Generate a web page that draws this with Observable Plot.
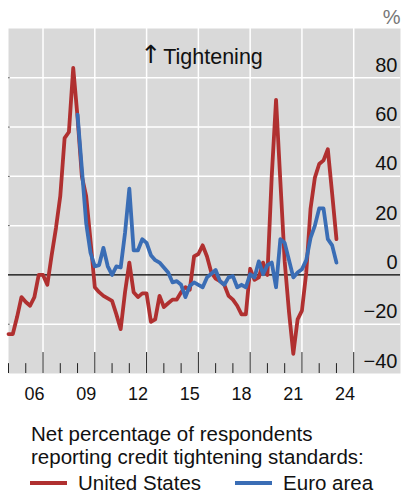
<!DOCTYPE html>
<html>
<head>
<meta charset="utf-8">
<script src="https://cdn.jsdelivr.net/npm/d3@7"></script>
<script src="https://cdn.jsdelivr.net/npm/@observablehq/plot@0.6"></script>
<style>
  body { margin: 0; background: #fff; font-family: "Liberation Sans", Arial, sans-serif; color: #111; }
  #chart svg { display: block; }
  #legend { margin-top: 13px; padding-left: 31px; font-size: 20.5px; line-height: 22.5px; }
  #legend .row { display: flex; align-items: center; margin-top: 5px; line-height: 20px; }
  #legend .sw { display: inline-block; width: 37px; height: 4px; margin-left: -1px; margin-right: 11px; }
  #legend .gap { display: inline-block; width: 35px; }
</style>
</head>
<body>
<div id="chart"></div>
<div id="legend">
  <div>Net percentage of respondents<br>reporting credit tightening standards:</div>
  <div class="row">
    <span class="sw" style="background:#b03030"></span><span>United States</span>
    <span class="gap"></span>
    <span class="sw" style="background:#3a6db5"></span><span>Euro area</span>
  </div>
</div>
<script>
// Quarterly series, United States starting 2005 Q1
const usStart = 2005;
const usValues = [
  -24, -24, -17, -9,
  -11, -12.5, -9, 0,
  0, -4, 8, 19,
  32, 55.5, 58, 84,
  64, 40, 32, 14,
  -5, -7, -8.5, -9.5,
  -10.5, -16, -22, -7,
  5, -7, -9, -7.5,
  -7.5, -19, -18, -8.5,
  -13, -11.5, -10, -10,
  -7, -5, -6, 7.5,
  8.5, 12, 7.5, 1,
  -1.5, -2.5, -4, -8.5,
  -10, -12.5, -16, -16,
  2.5, -2, -1, 5,
  0, 40, 71, 38,
  5.5, -15, -32, -18,
  -14.5, 1, 27, 39.5,
  45, 46.5, 51, 33,
  14.5
];
// Euro area starting 2009 Q1
const euroStart = 2009;
const euroValues = [
  65, 43, 21, 9,
  3.5, 4, 11, 3.5,
  0, 3.5, 3, 17,
  35, 10, 10, 14.5,
  13, 8, 6, 5,
  3, 1, -3, -2.5,
  -4, -9, -4.5, -3,
  -4, -5, -1, 0.5,
  2, -2.5, -4, -1,
  -0.5, -5, -4, -5,
  0.3, -1, 5.5, 0.3,
  4, 5, -5, 14.5,
  13, 6, -1, 1,
  2.3, 6, 15, 20,
  27, 27, 14.5, 12,
  5
];
const yTicks = [-40, -20, 0, 20, 40, 60, 80];
const yGrid = [-20, 20, 40, 60, 80];
const yearLabels = [2006, 2009, 2012, 2015, 2018, 2021, 2024];
const gridYears = [2007, 2010, 2013, 2016, 2019, 2022, 2025];
const tickYears = d3.range(2005, 2026);

const us = usValues.map((v, i) => ({date: usStart + i / 4, value: v}));
const ea = euroValues.map((v, i) => ({date: euroStart + i / 4, value: v}));
const fmtY = d => (d < 0 ? "\u2212" + Math.abs(d) : String(d));

const chart = Plot.plot({
  width: 402,
  height: 410,
  marginLeft: 8,
  marginRight: 2,
  marginTop: 28,
  marginBottom: 37,
  x: {domain: [2005, 2027.71], axis: null},
  y: {domain: [-40, 100], axis: null},
  style: {fontFamily: "Liberation Sans, Arial, sans-serif", background: "transparent", color: "#111"},
  marks: [
    Plot.frame({fill: "#d9d9d9", stroke: null}),
    Plot.ruleX(gridYears, {stroke: "white", strokeWidth: 1.5}),
    Plot.ruleY(yGrid, {stroke: "white", strokeWidth: 1.5}),
    Plot.ruleY(yGrid, {x1: 2005, x2: 2005.1, stroke: "#555"}),
    Plot.ruleY([0], {stroke: "black", strokeWidth: 1.2}),
    Plot.ruleX(tickYears, {x: d => d, y1: -40, y2: d => (gridYears.includes(d) ? -31.5 : -36), stroke: "#222", strokeWidth: 1}),
    Plot.line(us, {x: "date", y: "value", stroke: "#b03030", strokeWidth: 3.8, strokeLinejoin: "round"}),
    Plot.line(ea, {x: "date", y: "value", stroke: "#3a6db5", strokeWidth: 3.8, strokeLinejoin: "round"}),
    Plot.text(yTicks, {y: d => d, text: fmtY, frameAnchor: "right", textAnchor: "end", lineAnchor: "bottom", dx: -3, dy: -6, fontSize: 20, fill: "#111"}),
    Plot.text(yearLabels, {x: d => d + 0.5, text: d => String(d % 100).padStart(2, "0"), frameAnchor: "bottom", lineAnchor: "middle", dy: 21, fontSize: 18, fill: "#111"}),
    Plot.text(["\u2191"], {text: d => d, frameAnchor: "top", lineAnchor: "middle", dx: -53.5, dy: 26, fontSize: 25, fontFamily: "DejaVu Sans", fill: "#111"}),
    Plot.text(["Tightening"], {text: d => d, frameAnchor: "top", lineAnchor: "top", dx: 8.5, dy: 20, fontSize: 21.5, fill: "#111"}),
    Plot.text(["%"], {text: d => d, frameAnchor: "top-right", textAnchor: "end", lineAnchor: "bottom", dy: -5, fontSize: 20, fill: "#777"})
  ]
});
document.getElementById("chart").appendChild(chart);
</script>
</body>
</html>
